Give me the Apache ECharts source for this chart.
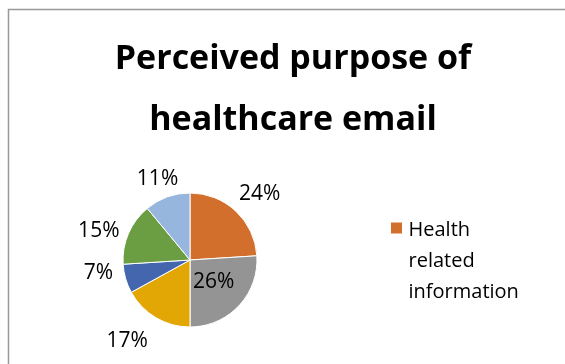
<!DOCTYPE html>
<html><head><meta charset="utf-8">
<script src="https://cdn.jsdelivr.net/npm/echarts@6/dist/echarts.min.js"></script>
<style>html,body{margin:0;padding:0;background:#fff}#c{width:565px;height:364px}</style>
</head><body><div id="c"></div>
<script>
const titleText = 'Perceived purpose of\nhealthcare email';
const categories = ['Health related information', 'Category 2', 'Category 3', 'Category 4', 'Category 5', 'Category 6'];
const values = [24, 26, 17, 7, 15, 11];
const colors = ['#D36F2C', '#949494', '#E2A704', '#4366AF', '#6B9D42', '#97B6DE'];
const legendShown = ['Health related information'];

// label nudges (best-fit style placement)
const labelNudge = [[-7, -8], [-3, -3], [0, 13], [1, -9], [4, 2], [17, -7]];

const chart = echarts.init(document.getElementById('c'), null, {renderer: 'canvas'});
const fontFam = '"Open Sans", "Noto Sans", sans-serif';
chart.setOption({
  animation: false,
  color: colors,
  graphic: [{
    type: 'rect', silent: true,
    shape: {x: 8.5, y: 9.5, width: 700, height: 500},
    style: {fill: 'none', stroke: '#999', lineWidth: 1.5}
  }],
  title: {
    text: titleText, left: 288, top: 24, textAlign: 'center',
    textStyle: {fontFamily: fontFam, fontWeight: 'bold', fontSize: 34, lineHeight: 61, color: '#000'}
  },
  legend: {
    data: legendShown, left: 384, top: 210, orient: 'vertical',
    icon: 'path://M0,0h13v13h-13z M0,80h0.01v0.01h-0.01z', itemWidth: 14, itemHeight: 80, itemGap: 6,
    formatter: n => n.split(' ').join('\n'),
    textStyle: {fontFamily: fontFam, fontSize: 20, lineHeight: 31, color: '#000'}
  },
  series: [{
    type: 'pie', center: [190, 260], radius: 67, startAngle: 90, clockwise: true,
    avoidLabelOverlap: false,
    itemStyle: {borderColor: '#fff', borderWidth: 1},
    label: {
      show: true, position: 'outside', formatter: '{d}%',
      fontFamily: fontFam, fontSize: 21, color: '#000', distanceToLabelLine: 2
    },
    labelLine: {show: false, length: 12, length2: 0},
    labelLayout: p => ({dx: labelNudge[p.dataIndex][0], dy: labelNudge[p.dataIndex][1]}),
    data: categories.map((c, i) => {
      const d = {name: c, value: values[i]};
      if (i === 1) d.label = {position: 'inside'};
      return d;
    })
  }]
});
</script></body></html>
